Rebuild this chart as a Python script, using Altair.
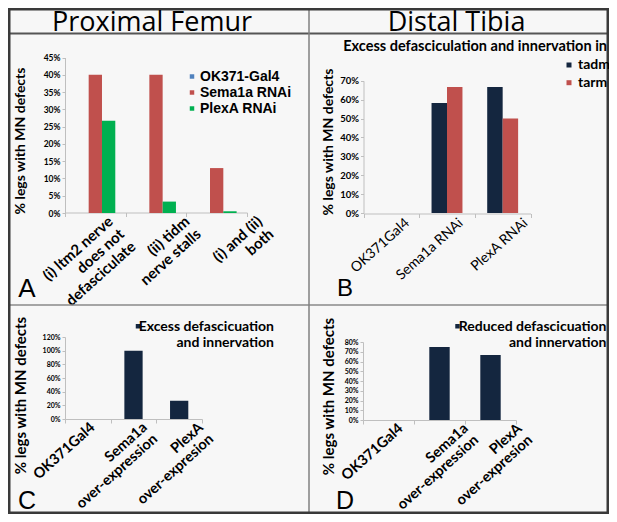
import json
import altair as alt
import pandas as pd

# ---------------- canvas ----------------
# The page adds an 8px margin, so reference pixel v sits at chart coordinate v - 8.
W, H = 601, 506


def X(v):
    return v - 8


def Y(v):
    return v - 8


# ---------------- data ----------------
headings = ["Proximal Femur", "Distal Tibia"]
panel_letters = ["A", "B", "C", "D"]
y_title = "% legs with MN defects"

a_categories = ["(i) ltm2 nerve\ndoes not\ndefasciculate", "(ii) tidm\nnerve stalls", "(i) and (ii)\nboth"]
a_series = ["OK371-Gal4", "Sema1a RNAi", "PlexA RNAi"]
a_ok371 = [0.0, 0.0, 0.0]
a_sema1a = [0.40, 0.40, 0.13]
a_plexa = [0.267, 0.033, 0.005]
a_ticks = [0.0, 0.05, 0.10, 0.15, 0.20, 0.25, 0.30, 0.35, 0.40, 0.45]

b_heading = "Excess defasciculation and innervation in"
b_categories = ["OK371Gal4", "Sema1a RNAi", "PlexA RNAi"]
b_series = ["tadm", "tarm"]
b_tadm = [0.0, 0.583, 0.667]
b_tarm = [0.0, 0.667, 0.50]
b_ticks = [0.0, 0.1, 0.2, 0.3, 0.4, 0.5, 0.6, 0.7]

c_categories = ["OK371Gal4", "Sema1a\nover-expression", "PlexA\nover-expresion"]
c_series = ["Excess defascicuation and innervation"]
c_values = [0.0, 1.0, 0.267]
c_ticks = [0.0, 0.2, 0.4, 0.6, 0.8, 1.0, 1.2]

d_categories = ["OK371Gal4", "Sema1a\nover-expression", "PlexA\nover-expresion"]
d_series = ["Reduced defascicuation and innervation"]
d_values = [0.0, 0.75, 0.667]
d_ticks = [0.0, 0.1, 0.2, 0.3, 0.4, 0.5, 0.6, 0.7, 0.8]

NAVY = "#14263F"
RED = "#C0504D"
GREEN = "#00B050"
BLUE = "#4F81BD"
AXIS_GRAY = "#BFBFBF"
BG = "#F7F7F7"

df_a = pd.DataFrame({
    "category": a_categories * 3,
    "series": [a_series[0]] * 3 + [a_series[1]] * 3 + [a_series[2]] * 3,
    "value": a_ok371 + a_sema1a + a_plexa,
})
df_b = pd.DataFrame({
    "category": b_categories * 2,
    "series": [b_series[0]] * 3 + [b_series[1]] * 3,
    "value": b_tadm + b_tarm,
})
df_c = pd.DataFrame({"category": c_categories, "series": c_series * 3, "value": c_values})
df_d = pd.DataFrame({"category": d_categories, "series": d_series * 3, "value": d_values})


# ---------------- helpers ----------------
def per_label(cats, shifts):
    """Horizontal label shift per category (the source software places each label slightly differently)."""
    return {
        "condition": [{"test": "datum.value === " + json.dumps(c), "value": s}
                      for c, s in zip(cats[:-1], shifts[:-1])],
        "value": shifts[-1],
    }


def xaxis(axis_y, size, weight, lh, offset, pad):
    return alt.Axis(
        orient="bottom", offset=Y(axis_y) - H, title=None,
        labelAngle=-42, labelAlign="right", labelBaseline="top",
        labelExpr="split(datum.label, '\\n')",
        labelFont="Lato", labelFontSize=size, labelFontWeight=weight,
        labelLineHeight=lh, labelColor="black", labelOffset=offset, labelPadding=pad,
        labelOverlap=False, labelLimit=400,
        tickBand="extent", tickSize=4, tickColor=AXIS_GRAY, domainColor=AXIS_GRAY, grid=False,
    )


def yaxis(axis_x, ticks, lsize, tx, ty, tsize):
    return alt.Axis(
        orient="left", offset=-X(axis_x), values=ticks, format=".0%",
        labelFont="Lato", labelFontSize=lsize, labelFontWeight="bold", labelColor="black",
        labelPadding=2, labelOverlap=False, labelFlush=False,
        tickSize=3, tickColor=AXIS_GRAY, domainColor=AXIS_GRAY, grid=False,
        title=y_title, titleFont="Lato", titleFontSize=tsize, titleFontWeight="bold",
        titleColor="black", titleAngle=270, titleAlign="center", titleBaseline="middle",
        titleX=X(tx) - X(axis_x), titleY=Y(ty),
    )


def text(t, x, y, size, weight="normal", font="Lato", align="center", baseline="middle"):
    return alt.Chart(pd.DataFrame({"t": [t]})).mark_text(
        font=font, fontSize=size, fontWeight=weight, align=align, baseline=baseline, color="black"
    ).encode(text="t:N", x=alt.value(X(x)), y=alt.value(Y(y)))


def rule(x1, y1, x2, y2, color, sw):
    return alt.Chart(pd.DataFrame({"k": [0]})).mark_rule(color=color, strokeWidth=sw).encode(
        x=alt.value(x1), x2=alt.value(x2), y=alt.value(y1), y2=alt.value(y2)
    )


# ---------------- panel A ----------------
chart_a = alt.Chart(df_a).mark_bar().encode(
    x=alt.X("category:N",
            scale=alt.Scale(domain=a_categories, range=[X(65), X(247)], paddingInner=0, paddingOuter=0),
            axis=xaxis(212.5, 15, "bold", 17, per_label(a_categories, [10, 26, 38]), -3)),
    xOffset=alt.XOffset("series:N", scale=alt.Scale(domain=a_series, paddingInner=0, paddingOuter=0.78)),
    y=alt.Y("value:Q", scale=alt.Scale(domain=[0, 0.45], range=[Y(213), Y(57.5)], nice=False),
            axis=yaxis(65, a_ticks, 8.5, 20, 140.5, 14)),
    color=alt.Color("series:N", scale=alt.Scale(domain=a_series, range=[BLUE, RED, GREEN]),
                    legend=alt.Legend(orient="none", legendX=X(185), legendY=Y(69.5), title=None,
                                      symbolType="square", symbolSize=20, symbolStrokeWidth=0,
                                      labelFont="Liberation Sans", labelFontWeight="bold",
                                      labelFontSize=14, labelColor="black", labelOffset=1,
                                      rowPadding=2, padding=0)),
)

# ---------------- panel B ----------------
chart_b = alt.Chart(df_b).mark_bar().encode(
    x=alt.X("category:N",
            scale=alt.Scale(domain=b_categories, range=[X(363.5), X(530.5)], paddingInner=0, paddingOuter=0),
            axis=xaxis(213.5, 14, "normal", 16, per_label(b_categories, [11, 9, 18]), -2)),
    xOffset=alt.XOffset("series:N", scale=alt.Scale(domain=b_series, paddingInner=0, paddingOuter=0.8)),
    y=alt.Y("value:Q", scale=alt.Scale(domain=[0, 0.7], range=[Y(213), Y(80.8)], nice=False),
            axis=yaxis(363.5, b_ticks, 9.5, 328, 141.5, 14)),
    color=alt.Color("series:N", scale=alt.Scale(domain=b_series, range=[NAVY, RED]),
                    legend=alt.Legend(orient="none", legendX=X(562), legendY=Y(58), title=None,
                                      symbolType="square", symbolSize=25, symbolStrokeWidth=0,
                                      labelFont="Lato", labelFontWeight="bold",
                                      labelFontSize=14, labelColor="black", labelOffset=2,
                                      rowPadding=3.7, padding=0)),
)

# ---------------- panels C / D ----------------
# square drawn a little below the entry anchor so that it sits beside the first label line
low_square = "M-1,1.8H1V3.8H-1Z"
legend_cd = dict(orient="none", title=None, symbolType=low_square, symbolSize=20, symbolStrokeWidth=0,
                 labelFont="Lato", labelFontWeight="bold", labelFontSize=14, labelColor="black",
                 labelExpr="split(replace(datum.label, ' and ', '|and '), '|')",
                 labelAlign="right", labelBaseline="top", labelLimit=400, padding=0)

chart_c = alt.Chart(df_c).mark_bar(width=alt.RelativeBandSize(0.4)).encode(
    x=alt.X("category:N",
            scale=alt.Scale(domain=c_categories, range=[X(65), X(202)], paddingInner=0, paddingOuter=0),
            axis=xaxis(419, 14.5, "bold", 15.5, per_label(c_categories, [0, 6.5, 17]), -3)),
    y=alt.Y("value:Q", scale=alt.Scale(domain=[0, 1.2], range=[Y(419), Y(337)], nice=False),
            axis=yaxis(65, c_ticks, 7, 20, 395, 15)),
    color=alt.Color("series:N", scale=alt.Scale(domain=c_series, range=[NAVY]),
                    legend=alt.Legend(legendX=X(131), legendY=Y(313), labelOffset=129, **legend_cd)),
)

chart_d = alt.Chart(df_d).mark_bar(width=alt.RelativeBandSize(0.4)).encode(
    x=alt.X("category:N",
            scale=alt.Scale(domain=d_categories, range=[X(363), X(516)], paddingInner=0, paddingOuter=0),
            axis=xaxis(420, 14.5, "bold", 15.5, per_label(d_categories, [7.5, 21.5, 24.5]), -3)),
    y=alt.Y("value:Q", scale=alt.Scale(domain=[0, 0.8], range=[Y(420), Y(342)], nice=False),
            axis=yaxis(363, d_ticks, 7, 328, 396, 15)),
    color=alt.Color("series:N", scale=alt.Scale(domain=d_series, range=[NAVY]),
                    legend=alt.Legend(legendX=X(450.5), legendY=Y(313), labelOffset=142, **legend_cd)),
)

# ---------------- decorations ----------------
frame = alt.Chart(pd.DataFrame({"k": [0]})).mark_rect(
    filled=False, stroke="#3A3A3A", strokeWidth=2.5
).encode(x=alt.value(1.25), x2=alt.value(W - 1.25), y=alt.value(1.25), y2=alt.value(H - 1.25))

layers = [
    rule(0, Y(33.5), W, Y(33.5), "#555555", 2),
    rule(0, Y(305), W, Y(305), "#8A8A8A", 1.5),
    rule(X(309), 0, X(309), H, "#808080", 1.5),
    frame,
    text(headings[0], 152, 31, 27, font="Open Sans", baseline="alphabetic"),
    text(headings[1], 456.5, 31, 27, font="Open Sans", baseline="alphabetic"),
    text(panel_letters[0], 27, 289, 26, font="Liberation Sans"),
    text(panel_letters[1], 345, 289, 24, font="Liberation Sans"),
    text(panel_letters[2], 27, 501, 25, font="Liberation Sans"),
    text(panel_letters[3], 345, 501, 25, font="Liberation Sans"),
    text(b_heading, 607, 47, 14.5, weight="bold", align="right"),
    chart_a, chart_b, chart_c, chart_d,
]

chart = alt.layer(*layers).properties(
    width=W, height=H, background=BG, padding=0,
    autosize=alt.AutoSizeParams(type="none"),
).resolve_scale(
    x="independent", y="independent", color="independent", xOffset="independent"
).resolve_axis(
    x="independent", y="independent"
).resolve_legend(
    color="independent"
).configure_view(strokeWidth=0)

chart.save("out.html", embed_options={"renderer": "svg", "actions": False})
